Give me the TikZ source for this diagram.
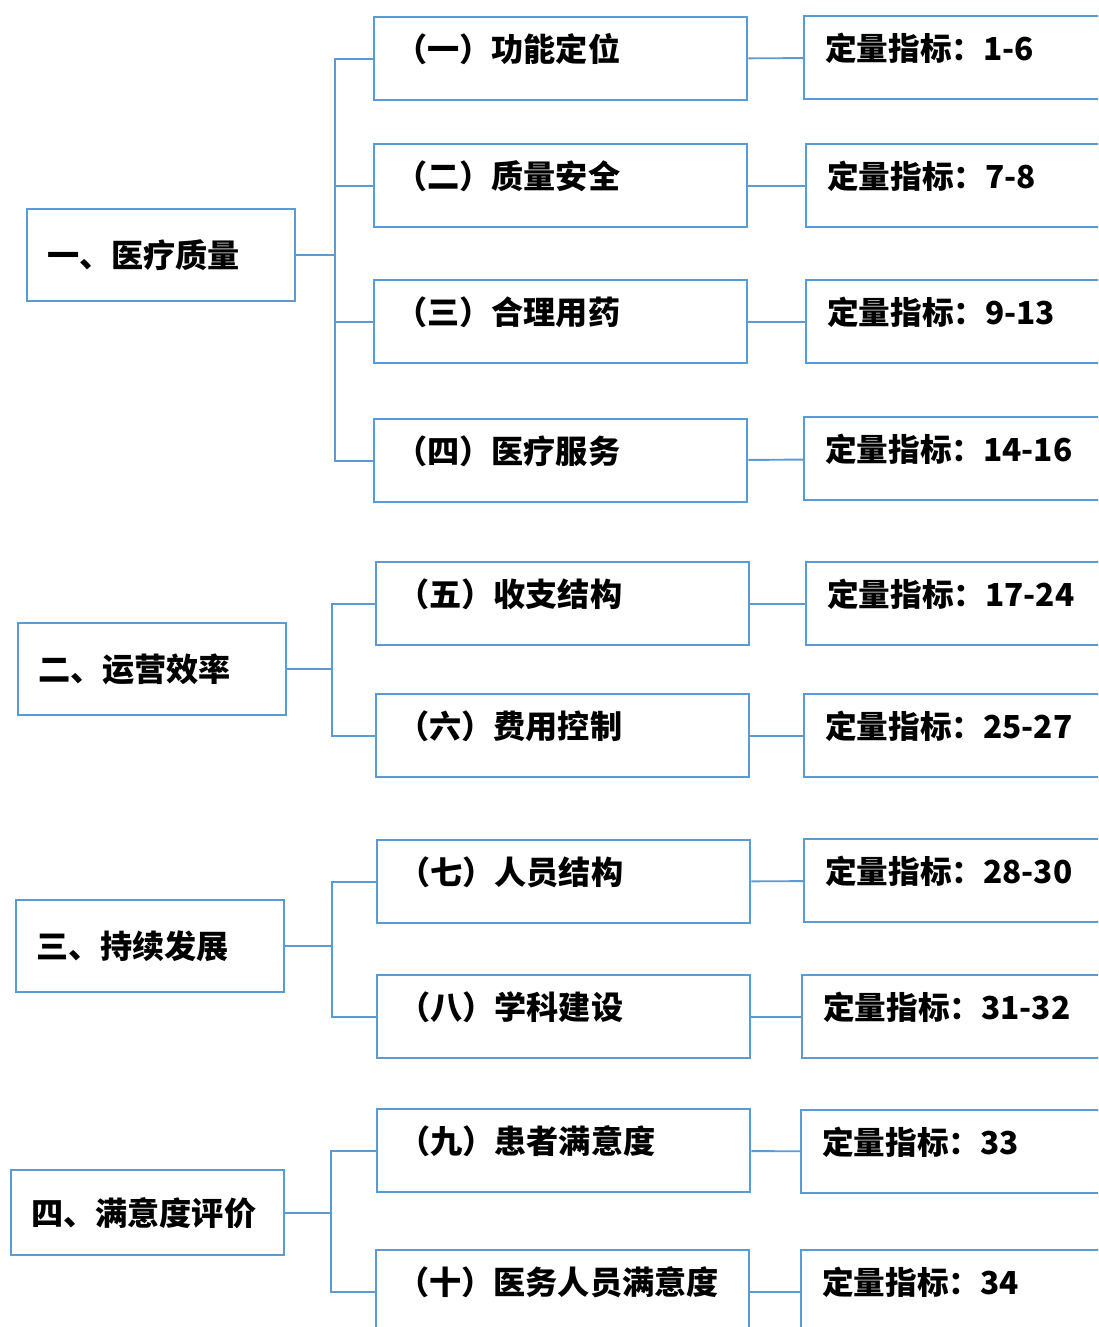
\documentclass[tikz,border=0pt]{standalone}
\usepackage{fontspec}
\usepackage{xcolor}
\usepackage{tikz}
\usetikzlibrary{positioning}
\newfontfamily\cjk{Noto Sans CJK SC}
\definecolor{boxblue}{RGB}{91,155,213}
\tikzset{root/.style={draw=boxblue,line width=1.4pt,anchor=north west,align=left,text width=4.56cm,inner xsep=0.4cm,minimum height=1.84cm,font=\cjk\bfseries\fontsize{18.3pt}{20pt}\selectfont}}
\tikzset{sub/.style={draw=boxblue,line width=1.4pt,anchor=north west,align=left,text width=6.62cm,inner xsep=0.42cm,inner ysep=0pt,text height=0.88cm,text depth=0.78cm,font=\cjk\bfseries\fontsize{18.3pt}{20pt}\selectfont}}
\tikzset{quant/.style={draw=boxblue,line width=1.4pt,anchor=north west,align=left,text width=7.2cm,inner xsep=0.42cm,inner ysep=0pt,text height=0.88cm,text depth=0.78cm,font=\cjk\bfseries\fontsize{18pt}{20pt}\selectfont}}
\tikzset{link/.style={draw=boxblue,line width=1.1pt}}
\begin{document}
\begin{tikzpicture}[x=0.02cm,y=-0.02cm]
    \useasboundingbox (0,0) rectangle (1098,1327);
    \clip (0,0) rectangle (1098,1327);
    % left column
    \node[root] (r1) at (26,208) {一、医疗质量};
    \node[root] (r2) at (17,622) {二、运营效率};
    \node[root] (r3) at (15,899) {三、持续发展};
    \node[root,text width=4.66cm,minimum height=1.7cm] (r4) at (10,1169) {四、满意度评价};
    % middle column
    \node[sub] (m1) at (373,16) {（一）功能定位};
    \node[sub] (m2) at (373,143) {（二）质量安全};
    \node[sub] (m3) at (373,279) {（三）合理用药};
    \node[sub] (m4) at (373,418) {（四）医疗服务};
    \node[sub] (m5) at (375,561) {（五）收支结构};
    \node[sub] (m6) at (375,693) {（六）费用控制};
    \node[sub] (m7) at (376,839) {（七）人员结构};
    \node[sub] (m8) at (376,974) {（八）学科建设};
    \node[sub] (m9) at (376,1108) {（九）患者满意度};
    \node[sub] (m10) at (375,1249) {（十）医务人员满意度};
    % right column
    \node[quant] (q1) at (803,15) {定量指标：1-6};
    \node[quant] (q2) at (805,143) {定量指标：7-8};
    \node[quant] (q3) at (805,279) {定量指标：9-13};
    \node[quant] (q4) at (803,416) {定量指标：14-16};
    \node[quant] (q5) at (805,561) {定量指标：17-24};
    \node[quant] (q6) at (803,693) {定量指标：25-27};
    \node[quant] (q7) at (803,838) {定量指标：28-30};
    \node[quant] (q8) at (801,974) {定量指标：31-32};
    \node[quant] (q9) at (800,1109) {定量指标：33};
    \node[quant] (q10) at (800,1249) {定量指标：34};

    \draw [link] (r1.east) -- ++(39,0) |- (m1.west);
    \draw [link] (r1.east) -- ++(39,0) |- (m2.west);
    \draw [link] (r1.east) -- ++(39,0) |- (m3.west);
    \draw [link] (r1.east) -- ++(39,0) |- (m4.west);
    \draw [link] (r2.east) -- ++(45,0) |- (m5.west);
    \draw [link] (r2.east) -- ++(45,0) |- (m6.west);
    \draw [link] (r3.east) -- ++(47,0) |- (m7.west);
    \draw [link] (r3.east) -- ++(47,0) |- (m8.west);
    \draw [link] (r4.east) -- ++(46,0) |- (m9.west);
    \draw [link] (r4.east) -- ++(46,0) |- (m10.west);

    \draw [link] (m1) to [] (q1);
    \draw [link] (m2) to [] (q2);
    \draw [link] (m3) to [] (q3);
    \draw [link] (m4) to [] (q4);
    \draw [link] (m5) to [] (q5);
    \draw [link] (m6) to [] (q6);
    \draw [link] (m7) to [] (q7);
    \draw [link] (m8) to [] (q8);
    \draw [link] (m9) to [] (q9);
    \draw [link] (m10) to [] (q10);
\end{tikzpicture}
\end{document}
